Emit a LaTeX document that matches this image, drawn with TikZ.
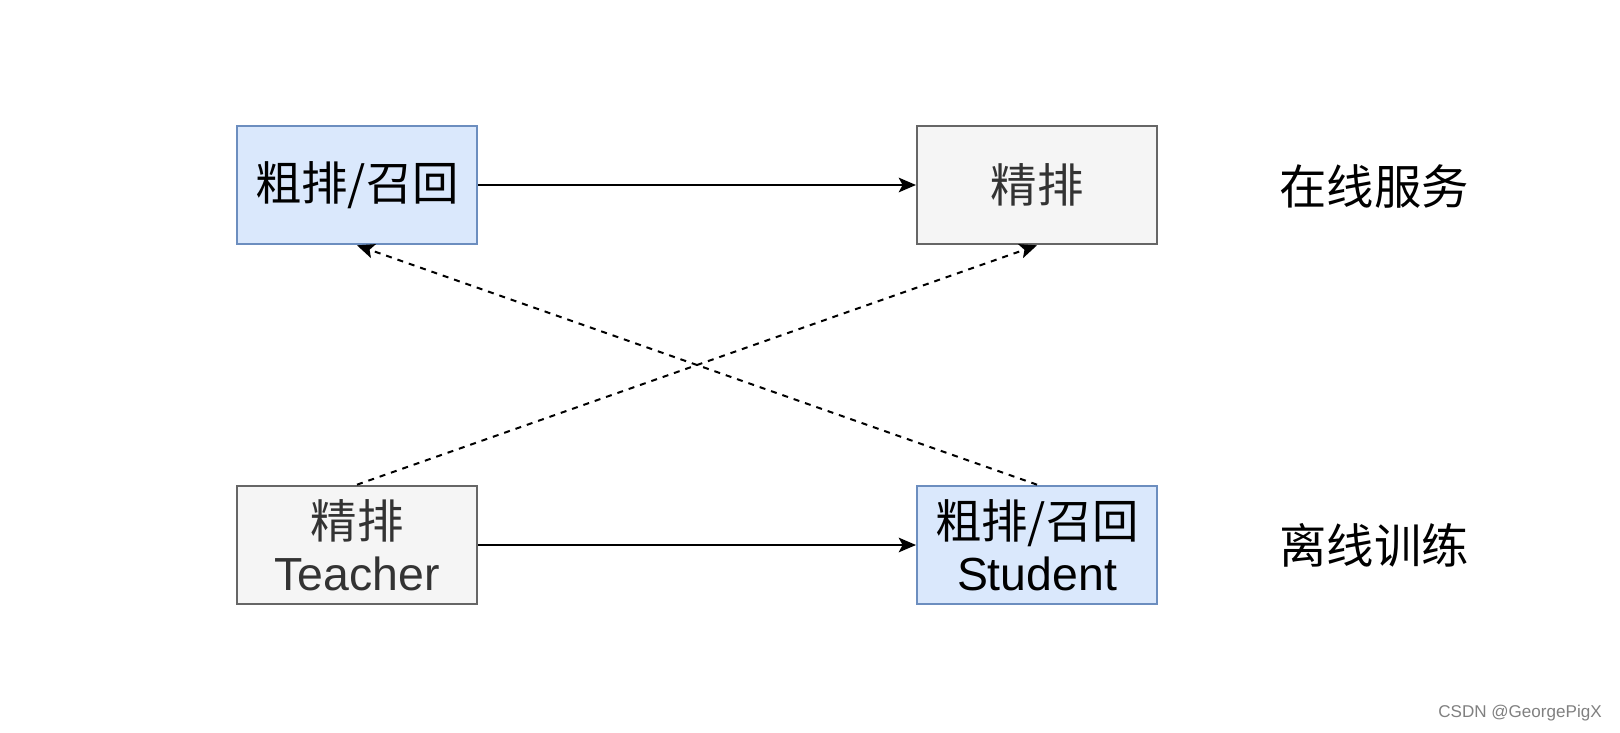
\documentclass[tikz,border=0pt]{standalone}
\usepackage{fontspec}
\setmainfont{Liberation Sans}
\newfontfamily\cjk{Noto Sans CJK SC}
\usetikzlibrary{arrows.meta}
\definecolor{blueFill}{HTML}{DAE8FC}
\definecolor{blueLine}{HTML}{6C8EBF}
\definecolor{grayFill}{HTML}{F5F5F5}
\definecolor{grayLine}{HTML}{666666}
\definecolor{grayText}{HTML}{333333}

\begin{document}
\begin{tikzpicture}[x=0.75pt, y=-0.75pt,
    stage/.style={draw, line width=1.5pt, minimum width=180pt, minimum height=89pt,
                  align=center, inner sep=0pt, font=\fontsize{34.8}{39}\selectfont},
    coarse/.style={stage, fill=blueFill, draw=blueLine, text=black},
    fine/.style={stage, fill=grayFill, draw=grayLine, text=grayText},
    side/.style={font=\fontsize{35.5}{40}\selectfont\cjk},
    flow/.style={line width=1.5pt, -{Stealth[length=13pt, width=11pt, inset=3pt]}},
    hint/.style={flow, dash pattern=on 4.5pt off 4.5pt}]
            \useasboundingbox (0, 0) rectangle (1620, 732);

            \node [coarse] (coarseOn)  at (357, 185)  {{\cjk 粗排/召回}};
            \node [fine]   (fineOn)    at (1037, 185) {{\cjk 精排}};
            \node [fine]   (fineOff)   at (357, 545)  {{\cjk 精排}\\Teacher};
            \node [coarse] (coarseOff) at (1037, 545) {{\cjk 粗排/召回}\\Student};

            \node [side] (online)  at (1374, 186) {在线服务};
            \node [side] (offline) at (1374, 545) {离线训练};

            \draw [flow] (coarseOn.east) -- (fineOn.west);
            \draw [flow] (fineOff.east)  -- (coarseOff.west);
            \draw [hint] (fineOff.north)   -- (fineOn.south);
            \draw [hint] (coarseOff.north) -- (coarseOn.south);

            \node [text=gray, font=\fontsize{12.8}{15}\selectfont] (mark) at (1520, 713) {CSDN @GeorgePigX};
          \end{tikzpicture}
\end{document}
